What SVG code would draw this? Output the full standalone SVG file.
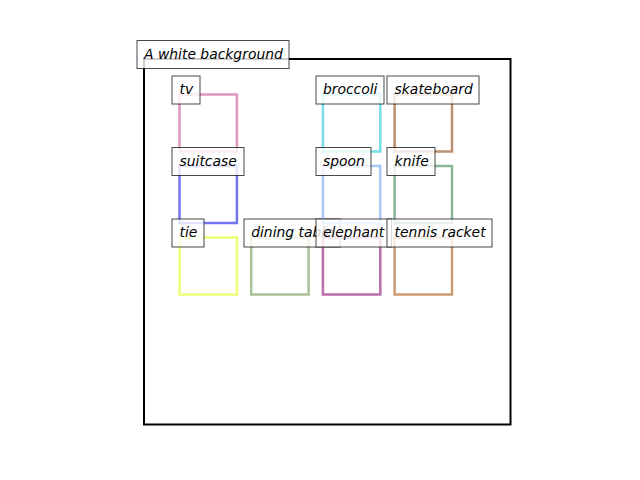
<svg xmlns="http://www.w3.org/2000/svg" width="640" height="480" viewBox="0 0 640 480">
<style>
.box{fill:none;stroke-width:2.5}
.lb{fill:#fff;fill-opacity:0.8;stroke:#000;stroke-opacity:0.72;stroke-width:1}
.tx{font-family:"DejaVu Sans",sans-serif;font-style:oblique;font-size:13.9px;fill:#000}
</style>
<rect width="640" height="480" fill="#fff"/>
<rect id="frame" x="144" y="59" width="366.5" height="365.5" fill="none" stroke="#000" stroke-width="2"/>
<g id="connectors"></g>
<g id="title">
<rect class="lb" x="137" y="40.5" width="152" height="28"/>
<text class="tx" x="144" y="59">A white background</text>
</g>
<g id="tv">
<rect class="box" x="179.5" y="94.5" width="57.4" height="57" stroke="#dd99bf"/>
<rect class="lb" x="172" y="76" width="28" height="28"/>
<text class="tx" x="179.5" y="94">tv</text>
</g>
<g id="suitcase">
<rect class="box" x="179.5" y="166" width="57.4" height="57" stroke="#7474ee"/>
<rect class="lb" x="172" y="147.5" width="72" height="28"/>
<text class="tx" x="179.5" y="165.5">suitcase</text>
</g>
<g id="tie">
<rect class="box" x="179.5" y="237.5" width="57.4" height="57" stroke="#eeff77"/>
<rect class="lb" x="172" y="219" width="32" height="28"/>
<text class="tx" x="179.5" y="237">tie</text>
</g>
<g id="dining_table">
<rect class="box" x="251.2" y="237.5" width="57.4" height="57" stroke="#a8c098"/>
<rect class="lb" x="244" y="219" width="96" height="28"/>
<text class="tx" x="251.2" y="237">dining table</text>
</g>
<g id="broccoli">
<rect class="box" x="322.9" y="94.5" width="57.4" height="57" stroke="#77dde6"/>
<rect class="lb" x="316" y="76" width="68" height="28"/>
<text class="tx" x="322.9" y="94">broccoli</text>
</g>
<g id="spoon">
<rect class="box" x="322.9" y="166" width="57.4" height="57" stroke="#a8c8f8"/>
<rect class="lb" x="316" y="147.5" width="55" height="28"/>
<text class="tx" x="322.9" y="165.5">spoon</text>
</g>
<g id="elephant">
<rect class="box" x="322.9" y="237.5" width="57.4" height="57" stroke="#bb6faa"/>
<rect class="lb" x="316" y="219" width="75.5" height="28"/>
<text class="tx" x="322.9" y="237">elephant</text>
</g>
<g id="skateboard">
<rect class="box" x="394.6" y="94.5" width="57.4" height="57" stroke="#bb9070"/>
<rect class="lb" x="387" y="76" width="92" height="28"/>
<text class="tx" x="394.6" y="94">skateboard</text>
</g>
<g id="knife">
<rect class="box" x="394.6" y="166" width="57.4" height="57" stroke="#88b498"/>
<rect class="lb" x="387" y="147.5" width="48" height="28"/>
<text class="tx" x="394.6" y="165.5">knife</text>
</g>
<g id="tennis_racket">
<rect class="box" x="394.6" y="237.5" width="57.4" height="57" stroke="#cc9a70"/>
<rect class="lb" x="387" y="219" width="105" height="28"/>
<text class="tx" x="394.6" y="237">tennis racket</text>
</g>
</svg>
